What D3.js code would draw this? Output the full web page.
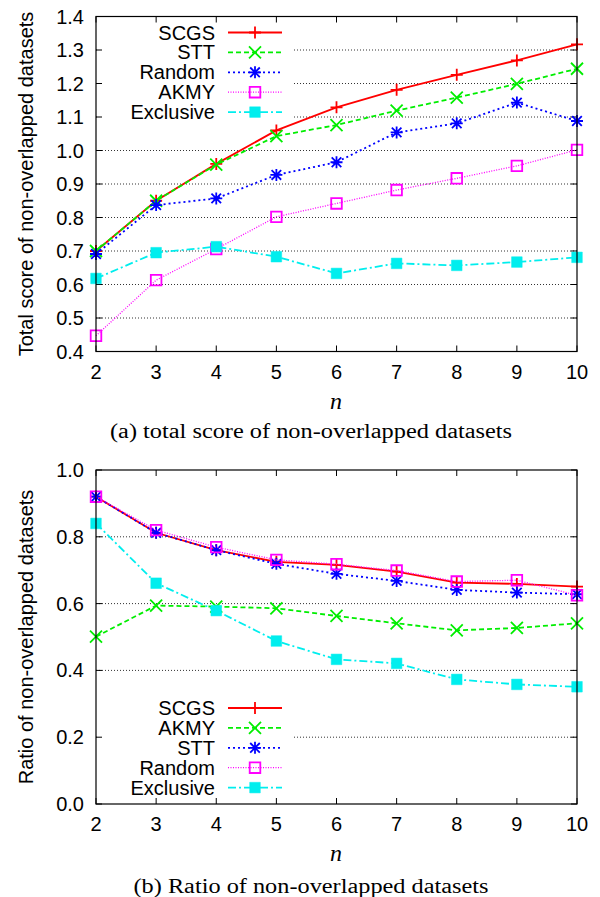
<!DOCTYPE html>
<html>
<head>
<meta charset="utf-8">
<script src="https://cdn.jsdelivr.net/npm/d3@7"></script>
<style>
  body { margin: 0; background: #fff; }
  svg { display: block; }
  .tick-label { font-family: "Liberation Sans", Arial, sans-serif; font-size: 20px; fill: #000; }
  .legend-label { font-family: "Liberation Sans", Arial, sans-serif; font-size: 20px; fill: #000; }
  .axis-title { font-family: "Liberation Sans", Arial, sans-serif; font-size: 20px; fill: #000; }
  .caption { font-family: "Liberation Serif", "Times New Roman", serif; font-size: 20px; fill: #000; }
  .n-label { font-family: "Liberation Serif", "Times New Roman", serif; font-size: 24px; font-style: italic; fill: #000; }
</style>
</head>
<body>
<div id="chart"></div>
<script>
// x values shared by both panels
const nValues = [2, 3, 4, 5, 6, 7, 8, 9, 10];

// panel (a): total score of non-overlapped datasets
const namesA = ["SCGS", "STT", "Random", "AKMY", "Exclusive"];
const scoreSCGS      = [0.700, 0.850, 0.960, 1.060, 1.129, 1.181, 1.226, 1.269, 1.317];
const scoreSTT       = [0.700, 0.850, 0.958, 1.043, 1.076, 1.119, 1.158, 1.199, 1.244];
const scoreRandom    = [0.691, 0.837, 0.857, 0.927, 0.965, 1.054, 1.081, 1.143, 1.088];
const scoreAKMY      = [0.447, 0.613, 0.706, 0.802, 0.842, 0.882, 0.917, 0.954, 1.002];
const scoreExclusive = [0.618, 0.695, 0.713, 0.683, 0.633, 0.663, 0.657, 0.667, 0.681];
const yTicksA = [0.4, 0.5, 0.6, 0.7, 0.8, 0.9, 1.0, 1.1, 1.2, 1.3, 1.4];

// panel (b): ratio of non-overlapped datasets
const namesB = ["SCGS", "AKMY", "STT", "Random", "Exclusive"];
const ratioSCGS      = [0.920, 0.812, 0.760, 0.725, 0.716, 0.696, 0.663, 0.659, 0.651];
const ratioAKMY      = [0.501, 0.594, 0.591, 0.586, 0.563, 0.541, 0.520, 0.527, 0.541];
const ratioSTT       = [0.920, 0.812, 0.760, 0.719, 0.689, 0.668, 0.641, 0.633, 0.628];
const ratioRandom    = [0.920, 0.820, 0.769, 0.731, 0.718, 0.699, 0.666, 0.670, 0.625];
const ratioExclusive = [0.840, 0.661, 0.579, 0.488, 0.433, 0.421, 0.373, 0.358, 0.351];
const yTicksB = [0.0, 0.2, 0.4, 0.6, 0.8, 1.0];

// gnuplot-like line types, by position in the key
const lineTypes = [
    { color: "#ff0000", dash: null,          width: 1.8, marker: "plus" },
    { color: "#00ee00", dash: "5,3",         width: 1.8, marker: "cross" },
    { color: "#0000ff", dash: "2,3",         width: 1.8, marker: "star" },
    { color: "#ff00ff", dash: "1,1.5",       width: 1.3, marker: "box" },
    { color: "#00eeee", dash: "8,3,2,3",     width: 1.8, marker: "fbox" }
];

const W = 600, H = 897;
const svg = d3.select("#chart").append("svg")
    .attr("width", W)
    .attr("height", H);

function markerPath(type, s) {
    if (type === "plus") return `M${-s},0H${s}M0,${-s}V${s}`;
    if (type === "cross") return `M${-s},${-s}L${s},${s}M${-s},${s}L${s},${-s}`;
    if (type === "star") return `M${-s},0H${s}M0,${-s}V${s}M${-s*0.8},${-s*0.8}L${s*0.8},${s*0.8}M${-s*0.8},${s*0.8}L${s*0.8},${-s*0.8}`;
    return `M${-s},${-s}H${s}V${s}H${-s}Z`;
}

function drawMarker(sel, type, color, x, y) {
    const s = type === "box" || type === "fbox" ? 5.3 : 6;
    sel.append("path")
        .attr("d", markerPath(type, s))
        .attr("transform", `translate(${x},${y})`)
        .attr("fill", type === "fbox" ? color : "none")
        .attr("stroke", color)
        .attr("stroke-width", type === "fbox" ? 0.5 : 1.8);
}

function drawPanel(opts) {
    const g = svg.append("g");
    const x = d3.scaleLinear().domain([2, 10]).range([96, 577]);
    const y = d3.scaleLinear().domain(opts.yDomain).range([opts.bottom, opts.top]);

    // dotted grid lines (inner ticks only)
    g.selectAll(".grid")
        .data(opts.yTicks.slice(1, -1))
        .enter().append("line")
        .attr("x1", 96).attr("x2", 577)
        .attr("y1", d => y(d)).attr("y2", d => y(d))
        .attr("stroke", "#333")
        .attr("stroke-width", 1)
        .attr("stroke-dasharray", "1,2");

    // opaque key background hides the grid
    g.append("rect")
        .attr("x", 97).attr("y", opts.keyTop - 10)
        .attr("width", 195).attr("height", 100)
        .attr("fill", "#fff");

    // inward ticks on all four sides
    const ticksY = opts.yTicks;
    g.selectAll(".tyl").data(ticksY).enter().append("line")
        .attr("x1", 96).attr("x2", 102)
        .attr("y1", d => y(d)).attr("y2", d => y(d))
        .attr("stroke", "#000");
    g.selectAll(".tyr").data(ticksY).enter().append("line")
        .attr("x1", 571).attr("x2", 577)
        .attr("y1", d => y(d)).attr("y2", d => y(d))
        .attr("stroke", "#000");
    g.selectAll(".txb").data(nValues).enter().append("line")
        .attr("x1", d => x(d)).attr("x2", d => x(d))
        .attr("y1", opts.bottom).attr("y2", opts.bottom - 6)
        .attr("stroke", "#000");
    g.selectAll(".txt").data(nValues).enter().append("line")
        .attr("x1", d => x(d)).attr("x2", d => x(d))
        .attr("y1", opts.top).attr("y2", opts.top + 6)
        .attr("stroke", "#000");

    // tick labels
    g.selectAll(".ylab").data(ticksY).enter().append("text")
        .attr("class", "tick-label")
        .attr("x", 84)
        .attr("y", d => y(d) + 7)
        .attr("text-anchor", "end")
        .text(d => d3.format(".1f")(d));
    g.selectAll(".xlab").data(nValues).enter().append("text")
        .attr("class", "tick-label")
        .attr("x", d => x(d))
        .attr("y", opts.bottom + 27)
        .attr("text-anchor", "middle")
        .text(d => d);

    // series
    opts.series.forEach((vals, i) => {
        const lt = lineTypes[i];
        const pts = nValues.map((n, j) => [x(n), y(vals[j])]);
        g.append("path")
            .attr("d", d3.line()(pts))
            .attr("fill", "none")
            .attr("stroke", lt.color)
            .attr("stroke-width", lt.width)
            .attr("stroke-dasharray", lt.dash);
        pts.forEach(p => drawMarker(g, lt.marker, lt.color, p[0], p[1]));
    });

    // key
    opts.names.forEach((name, i) => {
        const lt = lineTypes[i];
        const ky = opts.keyTop + i * 19.9;
        g.append("text")
            .attr("class", "legend-label")
            .attr("x", 215)
            .attr("y", ky + 7)
            .attr("text-anchor", "end")
            .text(name);
        g.append("line")
            .attr("x1", 228).attr("x2", 282)
            .attr("y1", ky).attr("y2", ky)
            .attr("stroke", lt.color)
            .attr("stroke-width", lt.width)
            .attr("stroke-dasharray", lt.dash);
        drawMarker(g, lt.marker, lt.color, 255, ky);
    });

    // border
    g.append("rect")
        .attr("x", 96).attr("y", opts.top)
        .attr("width", 577 - 96).attr("height", opts.bottom - opts.top)
        .attr("fill", "none")
        .attr("stroke", "#000")
        .attr("stroke-width", 1.2);

    // axis titles and caption
    const cy = (opts.top + opts.bottom) / 2;
    g.append("text")
        .attr("class", "axis-title")
        .attr("transform", `translate(33,${cy}) rotate(-90)`)
        .attr("text-anchor", "middle")
        .text(opts.yTitle);
    g.append("text")
        .attr("class", "n-label")
        .attr("x", 336)
        .attr("y", opts.bottom + 57)
        .attr("text-anchor", "middle")
        .text("n");
    g.append("text")
        .attr("class", "caption")
        .attr("x", 311)
        .attr("y", opts.captionY)
        .attr("text-anchor", "middle")
        .attr("textLength", opts.captionLen)
        .attr("lengthAdjust", "spacingAndGlyphs")
        .text(opts.caption);
}

drawPanel({
    top: 16.5, bottom: 351.5, yDomain: [0.4, 1.4], yTicks: yTicksA,
    series: [scoreSCGS, scoreSTT, scoreRandom, scoreAKMY, scoreExclusive],
    names: namesA, keyTop: 32.5,
    yTitle: "Total score of non-overlapped datasets",
    caption: "(a) total score of non-overlapped datasets",
    captionY: 438, captionLen: 402
});

drawPanel({
    top: 470, bottom: 804, yDomain: [0, 1], yTicks: yTicksB,
    series: [ratioSCGS, ratioAKMY, ratioSTT, ratioRandom, ratioExclusive],
    names: namesB, keyTop: 708,
    yTitle: "Ratio of non-overlapped datasets",
    caption: "(b) Ratio of non-overlapped datasets",
    captionY: 893, captionLen: 355
});
</script>
</body>
</html>
